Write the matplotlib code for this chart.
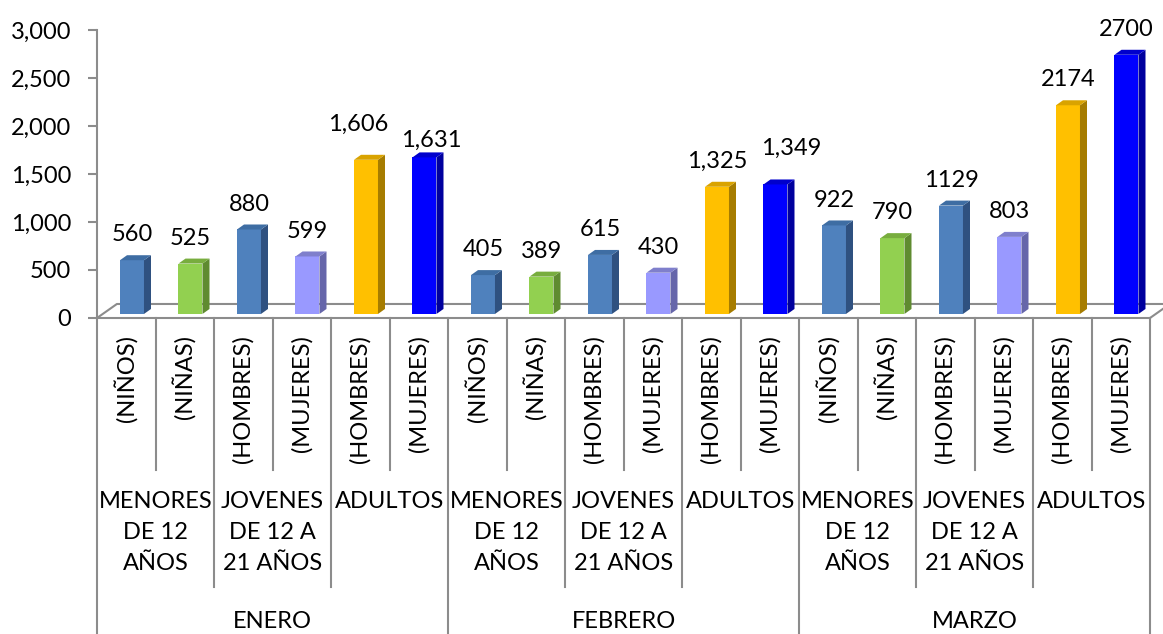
import matplotlib.pyplot as plt
from matplotlib.patches import Polygon
from matplotlib.transforms import blended_transform_factory

plt.rcParams['font.family'] = ['Lato', 'DejaVu Sans']

# data
months = ["ENERO", "FEBRERO", "MARZO"]
groups = ["MENORES\nDE 12\nAÑOS", "JOVENES\nDE 12 A\n21 AÑOS", "ADULTOS"]
subcats = ["(NIÑOS)", "(NIÑAS)", "(HOMBRES)", "(MUJERES)", "(HOMBRES)", "(MUJERES)"]
enero = [560, 525, 880, 599, 1606, 1631]
febrero = [405, 389, 615, 430, 1325, 1349]
marzo = [922, 790, 1129, 803, 2174, 2700]
value_labels = ["560", "525", "880", "599", "1,606", "1,631",
                "405", "389", "615", "430", "1,325", "1,349",
                "922", "790", "1129", "803", "2174", "2700"]

front = ["#4F81BD", "#92D050", "#4F81BD", "#9999FF", "#FFC000", "#0000FF"]
top = ["#3E6DA3", "#78AD3E", "#3E6DA3", "#7F7FCC", "#D9A300", "#0000CC"]
side = ["#2F5180", "#5F8B30", "#2F5180", "#6666AA", "#A67C00", "#00009E"]

# label nudges (pixels) where excel moved overlapping labels apart
nudge = {4: (-8, 10), 5: (7, -8), 11: (16, 11)}

values = enero + febrero + marzo
n = len(values)

W, H = 1163, 634
fig = plt.figure(figsize=(W / 100, H / 100), dpi=100)
ax = fig.add_axes([97 / W, (H - 318) / H, (1150 - 97) / W, (318 - 30) / H])
ax.set_xlim(-0.5, n - 0.5)
ax.set_ylim(0, 3000)

grey = "#8C8C8C"
for s in ["top", "right"]:
    ax.spines[s].set_visible(False)
for s in ["left", "bottom"]:
    ax.spines[s].set_color(grey)
    ax.spines[s].set_linewidth(1.5)
ax.set_xticks([])
ax.set_yticks(range(0, 3001, 500))
ax.set_yticklabels([f"{v:,}" for v in range(0, 3001, 500)])
ax.tick_params(axis="y", length=6.5, width=1.5, color=grey, pad=12, labelsize=17)

# 3d look
base = 42
dx, dy = 0.12, 52
bw = 0.41
off = -0.107
floor_dx, floor_dy = 0.34, 146

ax.plot([-0.5, -0.5 + floor_dx, n - 0.5 + floor_dx], [0, floor_dy, floor_dy],
        color=grey, lw=1.5, clip_on=False, zorder=1)
ax.plot([n - 0.5, n - 0.5 + floor_dx], [0, floor_dy], color=grey, lw=1.5,
        clip_on=False, zorder=1)

for i, v in enumerate(values):
    k = i % 6
    x0 = i + off
    x1 = x0 + bw
    y0 = base
    y1 = base + v
    ax.add_patch(Polygon([(x0, y0), (x1, y0), (x1, y1), (x0, y1)],
                         closed=True, fc=front[k], ec="none", zorder=3, clip_on=False))
    ax.add_patch(Polygon([(x1, y0), (x1 + dx, y0 + dy), (x1 + dx, y1 + dy), (x1, y1)],
                         closed=True, fc=side[k], ec="none", zorder=3, clip_on=False))
    ax.add_patch(Polygon([(x0, y1), (x1, y1), (x1 + dx, y1 + dy), (x0 + dx, y1 + dy)],
                         closed=True, fc=top[k], ec="none", zorder=3, clip_on=False))
    nx, ny = nudge.get(i, (0, 0))
    ax.annotate(value_labels[i], xy=(x0 + bw / 2, y1 + dy),
                xytext=(nx * 0.72, 10 + ny * 0.72),
                textcoords="offset points", ha="center", va="baseline",
                fontsize=17, zorder=4, annotation_clip=False)

# multi-level category axis
tr = blended_transform_factory(ax.transData, fig.transFigure)


def fy(py):
    return 1 - py / H


for b in range(n + 1):
    x = b - 0.5
    if b % 6 == 0:
        bottom = H
    elif b % 2 == 0:
        bottom = 587
    else:
        bottom = 470
    ax.plot([x, x], [fy(318), fy(bottom)], color=grey, lw=1.5, transform=tr,
            clip_on=False, zorder=2)

for i in range(n):
    ax.text(i, fy(335), subcats[i % 6], rotation=90, ha="center", va="top",
            fontsize=17, transform=tr)

for g in range(n // 2):
    ax.text(2 * g + 0.5, fy(491), groups[g % 3], ha="center", va="top",
            fontsize=17, linespacing=1.6, transform=tr, multialignment="center")

for m, name in enumerate(months):
    ax.text(6 * m + 2.5, fy(622), name, ha="center", va="center",
            fontsize=17, transform=tr)

fig.savefig("out.png", dpi=100)
